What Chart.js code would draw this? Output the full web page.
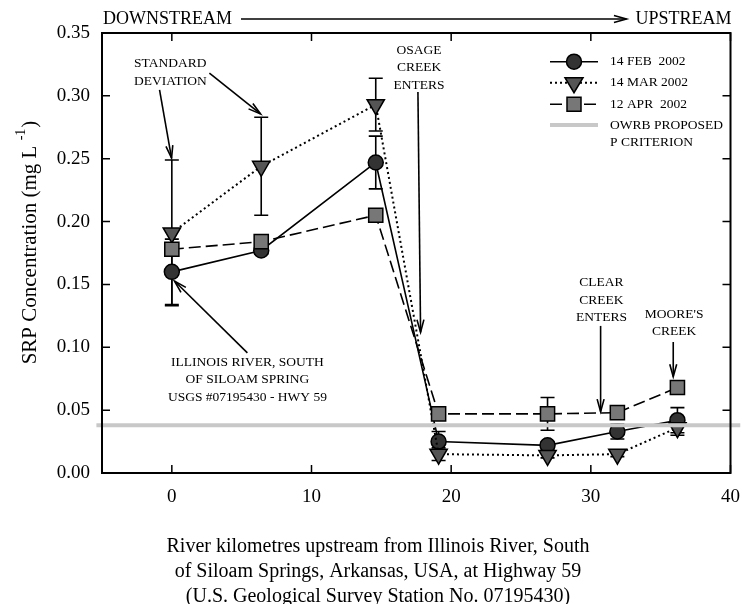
<!DOCTYPE html>
<html>
<head>
<meta charset="utf-8">
<script src="https://cdn.jsdelivr.net/npm/chart.js@4.4.0/dist/chart.umd.min.js"></script>
<style>
  body { margin: 0; background: #fff; }
  canvas { display: block; }
</style>
</head>
<body>
<canvas id="srpChart" width="742" height="604"></canvas>
<script>
// river km upstream from the Hwy 59 station
const riverKm = [0, 6.4, 14.6, 19.1, 26.9, 31.9, 36.2];

const feb2002 = [0.160, 0.177, 0.247, 0.025, 0.022, 0.033, 0.042];
const feb2002Sd = [0.026, 0.003, 0.021, 0.008, 0.003, 0.006, 0.010];

const mar2002 = [0.191, 0.244, 0.293, 0.015, 0.014, 0.015, 0.036];
const mar2002Sd = [0.058, 0.039, 0.021, 0.005, 0.002, 0.002, 0.006];

const apr2002 = [0.178, 0.184, 0.205, 0.047, 0.047, 0.048, 0.068];
const apr2002Sd = [0.002, 0.002, 0.002, 0.002, 0.013, 0.002, 0.003];

const criterionKm = [-5.4, 40.7];
const criterionValue = 0.038;

const xTickVals = [0, 10, 20, 30, 40];
const yTickVals = [0, 0.05, 0.10, 0.15, 0.20, 0.25, 0.30, 0.35];

const serif = '"Liberation Serif", "Times New Roman", serif';

// text notes and arrows, placed in data units
const notes = [
  { lines: ['STANDARD', 'DEVIATION'], x: -2.71, y: 0.3254, align: 'left' },
  { lines: ['OSAGE', 'CREEK', 'ENTERS'], x: 17.7, y: 0.3365, align: 'center' },
  { lines: ['CLEAR', 'CREEK', 'ENTERS'], x: 30.76, y: 0.1512, align: 'center' },
  { lines: ["MOORE'S", 'CREEK'], x: 35.96, y: 0.1265, align: 'center' },
  { lines: ['ILLINOIS RIVER, SOUTH', 'OF SILOAM SPRING', 'USGS #07195430 - HWY 59'], x: 5.41, y: 0.0883, align: 'center' }
];
const arrows = [
  [-0.88, 0.3047, -0.02, 0.2505],
  [2.69, 0.318, 6.35, 0.2856],
  [17.62, 0.303, 17.81, 0.112],
  [30.7, 0.117, 30.7, 0.0488],
  [35.9, 0.1042, 35.9, 0.0766],
  [5.41, 0.0955, 0.19, 0.1527]
];

function arrowHead(ctx, x0, y0, x1, y1) {
  const a = Math.atan2(y1 - y0, x1 - x0);
  const len = 13, spread = 0.27;
  ctx.beginPath();
  ctx.moveTo(x1 - len * Math.cos(a - spread), y1 - len * Math.sin(a - spread));
  ctx.lineTo(x1, y1);
  ctx.lineTo(x1 - len * Math.cos(a + spread), y1 - len * Math.sin(a + spread));
  ctx.stroke();
}

function marker(ctx, style, x, y, fill) {
  ctx.save();
  ctx.fillStyle = fill;
  ctx.strokeStyle = '#000';
  ctx.lineWidth = 1.5;
  ctx.setLineDash([]);
  ctx.beginPath();
  if (style === 'circle') {
    ctx.arc(x, y, 7.5, 0, Math.PI * 2);
  } else if (style === 'rect') {
    ctx.rect(x - 7, y - 7, 14, 14);
  } else {
    ctx.moveTo(x - 9, y - 5);
    ctx.lineTo(x + 9, y - 5);
    ctx.lineTo(x, y + 10);
    ctx.closePath();
  }
  ctx.fill();
  ctx.stroke();
  ctx.restore();
}

const errorBars = {
  id: 'errorBars',
  beforeDatasetsDraw(chart) {
    const { ctx, scales: { x, y } } = chart;
    ctx.save();
    ctx.strokeStyle = '#000';
    ctx.lineWidth = 1.6;
    [[feb2002, feb2002Sd], [mar2002, mar2002Sd], [apr2002, apr2002Sd]].forEach(([vals, sds]) => {
      vals.forEach((v, i) => {
        const px = x.getPixelForValue(riverKm[i]);
        const top = y.getPixelForValue(v + sds[i]);
        const bot = y.getPixelForValue(v - sds[i]);
        ctx.beginPath();
        ctx.moveTo(px, top); ctx.lineTo(px, bot);
        ctx.moveTo(px - 7, top); ctx.lineTo(px + 7, top);
        ctx.moveTo(px - 7, bot); ctx.lineTo(px + 7, bot);
        ctx.stroke();
      });
    });
    ctx.restore();
  }
};

const decorations = {
  id: 'decorations',
  afterDraw(chart) {
    const { ctx, chartArea: area, scales: { x, y } } = chart;
    ctx.save();

    // frame and inward ticks
    ctx.strokeStyle = '#000';
    ctx.lineWidth = 2;
    ctx.strokeRect(area.left, area.top, area.right - area.left, area.bottom - area.top);
    ctx.lineWidth = 1.5;
    ctx.beginPath();
    xTickVals.forEach(v => {
      const px = x.getPixelForValue(v);
      ctx.moveTo(px, area.bottom); ctx.lineTo(px, area.bottom - 8);
      ctx.moveTo(px, area.top); ctx.lineTo(px, area.top + 8);
    });
    yTickVals.forEach(v => {
      const py = y.getPixelForValue(v);
      ctx.moveTo(area.left, py); ctx.lineTo(area.left + 8, py);
      ctx.moveTo(area.right, py); ctx.lineTo(area.right - 8, py);
    });
    ctx.stroke();

    // notes
    ctx.fillStyle = '#000';
    ctx.font = '13.5px ' + serif;
    ctx.textBaseline = 'middle';
    notes.forEach(n => {
      ctx.textAlign = n.align;
      const px = x.getPixelForValue(n.x);
      const py = y.getPixelForValue(n.y);
      n.lines.forEach((t, k) => ctx.fillText(t, px, py + k * 17.5));
    });
    ctx.lineWidth = 1.6;
    arrows.forEach(a => {
      const x0 = x.getPixelForValue(a[0]), y0 = y.getPixelForValue(a[1]);
      const x1 = x.getPixelForValue(a[2]), y1 = y.getPixelForValue(a[3]);
      ctx.beginPath(); ctx.moveTo(x0, y0); ctx.lineTo(x1, y1); ctx.stroke();
      arrowHead(ctx, x0, y0, x1, y1);
    });

    // downstream / upstream banner
    ctx.font = '18px ' + serif;
    ctx.textAlign = 'left';
    ctx.fillText('DOWNSTREAM', area.left + 1, 19);
    const dsEnd = area.left + 1 + ctx.measureText('DOWNSTREAM').width;
    ctx.textAlign = 'right';
    ctx.fillText('UPSTREAM', area.right + 1, 19);
    const usStart = area.right + 1 - ctx.measureText('UPSTREAM').width;
    ctx.beginPath(); ctx.moveTo(dsEnd + 9, 19); ctx.lineTo(usStart - 9, 19); ctx.stroke();
    arrowHead(ctx, dsEnd + 9, 19, usStart - 9, 19);

    // legend
    const legendRows = [
      { label: '14 FEB  2002', style: 'circle', fill: '#333333', dash: [] },
      { label: '14 MAR 2002', style: 'triangle', fill: '#555555', dash: [2, 3] },
      { label: '12 APR  2002', style: 'rect', fill: '#777777', dash: [12, 5] }
    ];
    const rowY = [61.7, 82.7, 104.3];
    ctx.font = '13.5px ' + serif;
    ctx.textAlign = 'left';
    legendRows.forEach((r, k) => {
      ctx.save();
      ctx.lineWidth = r.style === 'triangle' ? 2 : 1.6;
      ctx.setLineDash(r.dash);
      ctx.beginPath(); ctx.moveTo(550, rowY[k]); ctx.lineTo(598, rowY[k]); ctx.stroke();
      ctx.restore();
      marker(ctx, r.style, 574, rowY[k], r.fill);
      ctx.fillText(r.label, 610, rowY[k]);
    });
    ctx.save();
    ctx.strokeStyle = '#c8c8c8';
    ctx.lineWidth = 4;
    ctx.beginPath(); ctx.moveTo(550, 125); ctx.lineTo(598, 125); ctx.stroke();
    ctx.restore();
    ctx.fillText('OWRB PROPOSED', 610, 125);
    ctx.fillText('P CRITERION', 610, 142);

    // y axis title with superscript
    ctx.save();
    ctx.translate(30, 243);
    ctx.rotate(-Math.PI / 2);
    const main = 'SRP Concentration (mg L';
    ctx.font = '21px ' + serif;
    const w1 = ctx.measureText(main + ' ').width;
    ctx.font = '14px ' + serif;
    const w2 = ctx.measureText('-1').width;
    ctx.font = '21px ' + serif;
    const w3 = ctx.measureText(')').width;
    let sx = -(w1 + w2 + w3) / 2;
    ctx.textAlign = 'left';
    ctx.fillText(main + ' ', sx, 0);
    ctx.font = '14px ' + serif;
    ctx.fillText('-1', sx + w1, -9);
    ctx.font = '21px ' + serif;
    ctx.fillText(')', sx + w1 + w2 + 1, 0);
    ctx.restore();

    // x axis title
    ctx.font = '20px ' + serif;
    ctx.textAlign = 'center';
    ['River kilometres upstream from Illinois River, South',
     'of Siloam Springs, Arkansas, USA, at Highway 59',
     '(U.S. Geological Survey Station No. 07195430)'].forEach((t, k) => {
      ctx.fillText(t, 378, 547 + k * 25);
    });

    ctx.restore();
  }
};

const pts = arr => arr.map((v, i) => ({ x: riverKm[i], y: v }));

new Chart(document.getElementById('srpChart'), {
  type: 'line',
  data: {
    datasets: [
      {
        label: 'OWRB PROPOSED P CRITERION',
        data: criterionKm.map(k => ({ x: k, y: criterionValue })),
        borderColor: '#c8c8c8',
        borderWidth: 4,
        pointRadius: 0,
        clip: false
      },
      {
        label: '12 APR 2002',
        data: pts(apr2002),
        borderColor: '#000',
        borderWidth: 1.6,
        borderDash: [12, 5],
        pointStyle: 'rect',
        pointRadius: 10,
        pointBackgroundColor: '#777777',
        pointBorderColor: '#000',
        pointBorderWidth: 1.5
      },
      {
        label: '14 MAR 2002',
        data: pts(mar2002),
        borderColor: '#000',
        borderWidth: 2,
        borderDash: [2, 3],
        pointStyle: 'triangle',
        pointRotation: 180,
        pointRadius: 10,
        pointBackgroundColor: '#555555',
        pointBorderColor: '#000',
        pointBorderWidth: 1.5
      },
      {
        label: '14 FEB 2002',
        data: pts(feb2002),
        borderColor: '#000',
        borderWidth: 1.6,
        pointStyle: 'circle',
        pointRadius: 7.5,
        pointBackgroundColor: '#333333',
        pointBorderColor: '#000',
        pointBorderWidth: 1.5
      }
    ]
  },
  options: {
    responsive: false,
    animation: false,
    devicePixelRatio: 1,
    layout: { padding: { top: 33, right: 10, left: 0, bottom: 0 } },
    plugins: { legend: { display: false }, tooltip: { enabled: false } },
    scales: {
      x: {
        type: 'linear',
        min: -5,
        max: 40,
        grid: { display: false },
        border: { display: false },
        afterBuildTicks: s => { s.ticks = xTickVals.map(v => ({ value: v })); },
        afterFit: s => { s.height = 131; s.paddingLeft = 0; s.paddingRight = 0; },
        ticks: {
          padding: 5,
          color: '#000',
          font: { family: serif, size: 19 },
          callback: v => String(v)
        }
      },
      y: {
        min: 0,
        max: 0.35,
        grid: { display: false },
        border: { display: false },
        afterBuildTicks: s => { s.ticks = yTickVals.map(v => ({ value: v })); },
        afterFit: s => { s.width = 102; s.paddingTop = 0; s.paddingBottom = 0; },
        ticks: {
          padding: 4,
          color: '#000',
          font: { family: serif, size: 19 },
          callback: v => v.toFixed(2)
        }
      }
    }
  },
  plugins: [errorBars, decorations]
});
</script>
</body>
</html>
